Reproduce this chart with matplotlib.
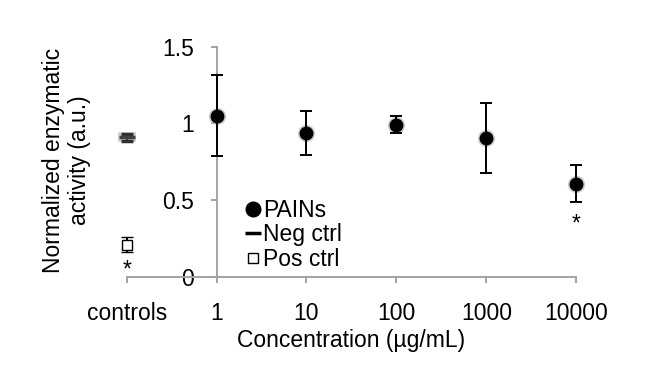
import numpy as np
import matplotlib
matplotlib.use("Agg")
import matplotlib.pyplot as plt
from matplotlib.lines import Line2D

plt.rcParams['font.family'] = ['Liberation Sans', 'DejaVu Sans']

# data
categories = ['controls', '1', '10', '100', '1000', '10000']
pains_x = ['1', '10', '100', '1000', '10000']
pains_mean = [1.05, 0.935, 0.99, 0.905, 0.605]
pains_err = [0.265, 0.145, 0.055, 0.23, 0.122]
neg_mean = 0.909
neg_err = 0.022
pos_mean = 0.207
pos_err = 0.05
star_y = {'controls': 0.092, '10000': 0.386}

pos = {c: i for i, c in enumerate(categories)}
FS = 16.5

fig = plt.figure(figsize=(6.5, 3.85), dpi=100)
ax = fig.add_axes([0.1949, 0.2818, 0.6915, 0.597])
ax.spines['left'].set_position(('data', 1))

grey = '#a3a3a3'

# soft shadows like the original
px = [pos[c] for c in pains_x]
ax.plot(px, pains_mean, 'o', ms=11.5, color='#b0b0b0', alpha=0.5, zorder=2, clip_on=False)
ax.errorbar(px, pains_mean, yerr=pains_err, fmt='o', ms=9, color='black',
            ecolor='black', elinewidth=1.4, capsize=4, capthick=1.4, zorder=3, clip_on=False)

ax.plot([pos['controls']], [neg_mean], '_', ms=13, mew=7, color='#c4c4c4', alpha=0.8,
        zorder=2, clip_on=False)
ax.errorbar([pos['controls']], [neg_mean], yerr=neg_err, fmt='_', ms=11, mew=2.5,
            color='#404040', ecolor='#303030', elinewidth=1.3, capsize=4, capthick=1.3,
            zorder=3, clip_on=False)

ax.errorbar([pos['controls']], [pos_mean], yerr=pos_err, fmt='s', ms=6.5, mfc='white',
            mec='black', mew=1, ecolor='black', elinewidth=1.4, capsize=4, capthick=1.4,
            zorder=3, clip_on=False)

for c, yv in star_y.items():
    ax.annotate('*', (pos[c], yv), xytext=(0, -9.8), textcoords='offset points',
                ha='center', va='baseline', fontsize=FS)

ax.set_xlim(0, 5)
ax.set_ylim(0, 1.5)
ax.set_xticks(range(len(categories)))
ax.set_xticklabels(categories)
ax.set_yticks([0, 0.5, 1, 1.5])
ax.set_yticklabels(['0', '0.5', '1', '1.5'])

ax.spines['top'].set_visible(False)
ax.spines['right'].set_visible(False)
for s in ['left', 'bottom']:
    ax.spines[s].set_color(grey)
    ax.spines[s].set_linewidth(1.4)
ax.tick_params(axis='both', colors=grey, length=4.5, width=1.4, labelcolor='black',
               labelsize=FS)
ax.tick_params(axis='x', pad=14)
ax.tick_params(axis='y', pad=12)

ax.set_xlabel('Concentration (µg/mL)', fontsize=FS, labelpad=3)
fig.text(0.102, 0.584, 'Normalized enzymatic\nactivity (a.u.)', rotation=90,
         ha='center', va='center', fontsize=FS, linespacing=1.15)

handles = [
    Line2D([], [], ls='none', marker='o', ms=10.5, color='black'),
    Line2D([], [], ls='none', marker='_', ms=12, mew=2.5, color='black'),
    Line2D([], [], ls='none', marker='s', ms=6.5, mfc='white', mec='black', mew=1),
]
fig.legend(handles, ['PAINs', 'Neg ctrl', 'Pos ctrl'], loc='upper left',
           bbox_to_anchor=(0.378, 0.484), frameon=False, fontsize=FS,
           handlelength=0.6, handletextpad=0.15, labelspacing=0.08, borderpad=0,
           borderaxespad=0)

fig.savefig('out.png', dpi=100)
